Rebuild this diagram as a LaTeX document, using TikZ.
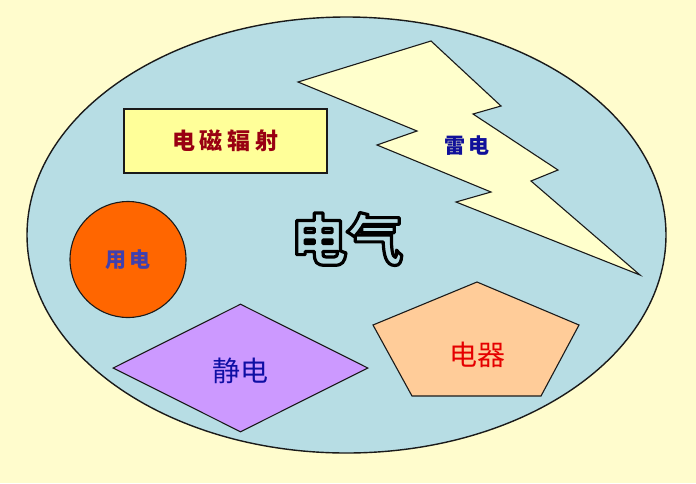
\documentclass[tikz,border=0pt]{standalone}
\usepackage{fontspec}
\usetikzlibrary{shapes.geometric}
\newfontfamily\cjk{Noto Sans CJK SC}
\newcommand{\hollow}[2]{\special{pdf:literal direct 1 Tr #1 w 1 j}#2\special{pdf:literal direct 0 Tr}}
\definecolor{paper}{HTML}{FFFCCD}
\definecolor{skyblue}{HTML}{B7DDE4}
\definecolor{lemon}{HTML}{FFFF99}
\definecolor{cream}{HTML}{FFFFCC}
\definecolor{tangerine}{HTML}{FF6600}
\definecolor{lilac}{HTML}{CC99FF}
\definecolor{peach}{HTML}{FFCC99}
\definecolor{wine}{HTML}{990012}
\definecolor{navy}{HTML}{10109A}
\definecolor{ink}{HTML}{1A1A1A}

\begin{document}
\begin{tikzpicture}[x=1pt, y=-1pt,
    outer/.style = {draw=ink, line width=1.1pt, inner sep=0pt},
    tag/.style = {inner sep=0pt, font=\cjk\bfseries\fontsize{#1}{#1}\selectfont}]
    % Background
    \fill[paper] (0,0) rectangle (696,483);
    \useasboundingbox (0,0) rectangle (696,483);

    % Nodes
    \node[outer, ellipse, fill=skyblue, line width=1.4pt, minimum width=639pt, minimum height=436pt] (field) at (346.5,235) {};
    \node[outer, fill=lemon, minimum width=203pt, minimum height=64pt] (radiation) at (225.5,141) {};
    \node[tag=23, text=wine] at (radiation) {电\hspace{5pt}磁\hspace{5pt}辐\hspace{5pt}射};

    \draw[outer, fill=cream] (298,82) -- (431,41) -- (501,106) -- (473,114) -- (558,170) -- (531,181)
        -- (640,275) -- (456,202) -- (491,192) -- (377,145) -- (417,131) -- cycle;
    \node[tag=21, text=navy] (thunder) at (467,146) {雷\hspace{4pt}电};

    \node[outer, circle, fill=tangerine, minimum size=116pt] (usage) at (128,259.5) {};
    \node[tag=21, text=navy!80!white] at (usage) {用\hspace{3pt}电};

    \node[outer, diamond, fill=lilac, minimum width=255pt, minimum height=128pt] (static) at (240.5,368) {};
    \node[tag=28, font=\cjk\fontsize{28}{28}\selectfont, text=navy!90!blue] at (240,371) {静电};

    \draw[outer, fill=peach] (373,325) -- (477,282) -- (579,325) -- (541,396) -- (412,396) -- cycle;
    \node[tag=28, font=\cjk\fontsize{28}{28}\selectfont, text=red!90!black] (appliance) at (477,355) {电器};

    \node[tag=56, text=black] (power) at (347,239) {\hollow{3.2}{电气}};

\end{tikzpicture}
\end{document}
